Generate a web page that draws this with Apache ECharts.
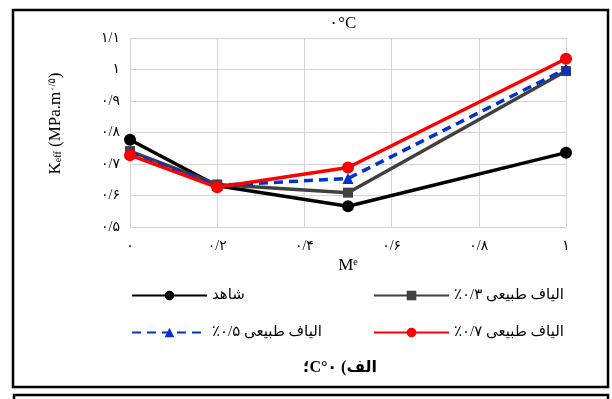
<!DOCTYPE html>
<html>
<head>
<meta charset="utf-8">
<script src="https://cdn.jsdelivr.net/npm/echarts@6/dist/echarts.min.js"></script>
<style>
  html, body { margin: 0; padding: 0; background: #fff; }
  #chart { width: 612px; height: 399px; }
</style>
</head>
<body>
<div id="chart"></div>
<script>
// Fracture toughness K_eff against M^e at 0 °C
const RLE = '\u202B', PDF = '\u202C';

const xValues = [0, 0.2, 0.5, 1];
const seriesNames = [
  'شاهد',
  RLE + 'الیاف طبیعی ۰/۳٪' + PDF,
  RLE + 'الیاف طبیعی ۰/۵٪' + PDF,
  RLE + 'الیاف طبیعی ۰/۷٪' + PDF
];
const controlValues = [0.777, 0.631, 0.566, 0.736];
const fiber03Values = [0.741, 0.635, 0.609, 0.995];
const fiber05Values = [0.736, 0.632, 0.654, 1.002];
const fiber07Values = [0.728, 0.626, 0.689, 1.034];

const xTickLabels = ['۰', '۰/۲', '۰/۴', '۰/۶', '۰/۸', '۱'];
const yTickLabels = ['۰/۵', '۰/۶', '۰/۷', '۰/۸', '۰/۹', '۱', '۱/۱'];

const titleText = '۰°C';
const captionText = RLE + 'الف) ۰°C؛' + PDF;

const serif = '"Liberation Serif", "DejaVu Sans", serif';

function pairs(values) {
  return xValues.map((x, i) => [x, values[i]]);
}

const seriesStyles = [
  { color: '#000000', symbol: 'circle', size: 12, type: 'solid' },
  { color: '#404040', symbol: 'rect', size: 10, type: 'solid' },
  { color: '#0033cc', symbol: 'triangle', size: 11, type: [9, 6] },
  { color: '#ff0000', symbol: 'circle', size: 12, type: 'solid' }
];
const seriesData = [controlValues, fiber03Values, fiber05Values, fiber07Values];

const series = seriesData.map((vals, i) => ({
  name: seriesNames[i],
  type: 'line',
  data: pairs(vals),
  symbol: seriesStyles[i].symbol,
  symbolSize: seriesStyles[i].size,
  showSymbol: true,
  z: 2 + i,
  lineStyle: { color: seriesStyles[i].color, width: 3.5, type: seriesStyles[i].type },
  itemStyle: { color: seriesStyles[i].color, borderWidth: 0 },
  emphasis: { disabled: true },
  animation: false
}));

const legendSlots = [
  { left: 131, top: 288 },
  { left: 373, top: 288 },
  { left: 131, top: 325 },
  { left: 373, top: 325 }
];

const legend = [0, 1, 3, 2].map((si, k) => ({
  data: [seriesNames[si]],
  left: legendSlots[k === 2 ? 3 : k === 3 ? 2 : k].left,
  top: legendSlots[k === 2 ? 3 : k === 3 ? 2 : k].top,
  orient: 'horizontal',
  itemWidth: 75,
  itemHeight: 12,
  itemGap: 5,
  padding: 0,
  selectedMode: false,
  textStyle: { fontFamily: serif, fontSize: 15, color: '#000' }
}));

const chart = echarts.init(document.getElementById('chart'), null, { renderer: 'canvas' });
chart.setOption({
  backgroundColor: '#ffffff',
  animation: false,
  title: {
    text: titleText,
    left: 329,
    top: 15,
    padding: 0,
    textStyle: { fontFamily: serif, fontSize: 17, fontWeight: 'normal', color: '#000' }
  },
  legend: legend,
  grid: { left: 130, right: 46, top: 38, bottom: 172, containLabel: false },
  xAxis: {
    type: 'value',
    min: 0,
    max: 1,
    interval: 0.2,
    name: '{m|M}{s|e}',
    nameLocation: 'middle',
    nameGap: 30,
    nameTextStyle: {
      rich: {
        m: { fontFamily: serif, fontSize: 17, color: '#000' },
        s: { fontFamily: serif, fontSize: 10, color: '#000', verticalAlign: 'top', padding: [0, 0, 6, 0] }
      }
    },
    axisLine: { show: false },
    axisTick: { show: false },
    axisLabel: {
      margin: 12,
      fontFamily: serif,
      fontSize: 14,
      color: '#000',
      formatter: (v) => xTickLabels[Math.round(v * 5)]
    },
    splitLine: { show: true, lineStyle: { color: '#d4d4d4', width: 1 } }
  },
  yAxis: {
    type: 'value',
    min: 0.5,
    max: 1.1,
    interval: 0.1,
    name: '{k|K}{sub|eff}{k| (MPa.m}{sup|۰/۵}{k|)}',
    nameLocation: 'middle',
    nameGap: 66,
    nameRotate: 90,
    nameTextStyle: {
      padding: [0, 0, 0, 18],
      rich: {
        k: { fontFamily: serif, fontSize: 17, color: '#000' },
        sub: { fontFamily: serif, fontSize: 10, color: '#000', padding: [6, 0, 0, 0] },
        sup: { fontFamily: serif, fontSize: 10, color: '#000', padding: [0, 0, 7, 0] }
      }
    },
    axisLine: { show: false },
    axisTick: { show: false },
    axisLabel: {
      margin: 10,
      fontFamily: serif,
      fontSize: 14,
      color: '#000',
      formatter: (v) => yTickLabels[Math.round(v * 10) - 5]
    },
    splitLine: { show: true, lineStyle: { color: '#d4d4d4', width: 1 } }
  },
  graphic: [
    {
      type: 'rect',
      shape: { x: 13, y: 10, width: 595, height: 377 },
      style: { fill: 'none', stroke: '#000', lineWidth: 2.5 },
      silent: true
    },
    {
      type: 'rect',
      shape: { x: 14, y: 395, width: 594, height: 30 },
      style: { fill: 'none', stroke: '#000', lineWidth: 2.5 },
      silent: true
    },
    {
      type: 'text',
      x: 340,
      y: 368,
      style: {
        text: captionText,
        fontFamily: serif,
        fontSize: 16,
        fontWeight: 'bold',
        fill: '#000',
        align: 'center',
        verticalAlign: 'middle'
      },
      silent: true
    }
  ],
  series: series
});
</script>
</body>
</html>
